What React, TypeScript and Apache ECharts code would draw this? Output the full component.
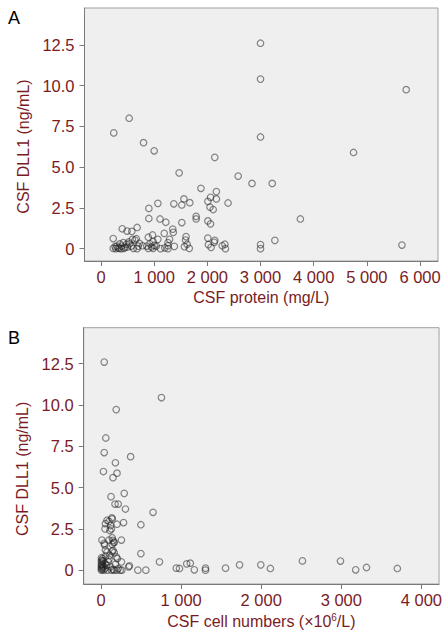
import React, { useEffect, useRef } from "react";
import * as echarts from "echarts";

// Panel A: CSF protein (mg/L) vs CSF DLL1 (ng/mL)
const proteinX = [
  3000, 3000, 5740, 530, 240, 800, 1000, 2140, 3000, 4750,
  1470, 2580, 2840, 3220, 1880, 2170, 2060, 2170, 1560, 2010,
  2390, 1670, 1370, 1520, 1070, 900, 2050, 2110, 900, 1110,
  1220, 1520, 1790, 1790, 2010, 2060, 3750, 400, 490, 580,
  680, 1350, 1360, 1190, 230, 970, 890, 1070, 1290, 1600,
  1590, 2010, 2140, 2130, 3270, 3000, 3000, 5660, 2330, 2280,
  2340, 2020, 2070, 1620, 1660, 1570, 1380, 1260, 1260, 1260,
  1120, 1040, 980, 980, 860, 890, 230, 300, 345, 390,
  430, 480, 520, 570, 610, 640, 680, 720, 665, 590,
  780, 355, 265, 420, 450, 280, 320, 380, 500, 540,
  700, 1200, 920, 950, 1000,
];
const dllA = [
  12.6, 10.4, 9.75, 8.0, 7.1, 6.5, 6.0, 5.6, 6.85, 5.9,
  4.65, 4.45, 4.0, 4.0, 3.7, 3.5, 3.15, 3.05, 3.05, 2.9,
  2.8, 2.82, 2.75, 2.68, 2.78, 2.47, 2.55, 2.4, 1.85, 1.82,
  1.62, 1.6, 1.98, 1.82, 1.7, 1.52, 1.82, 1.22, 1.08, 1.06,
  1.3, 1.2, 1.0, 0.94, 0.62, 0.84, 0.7, 0.57, 0.57, 0.74,
  0.53, 0.65, 0.51, 0.39, 0.51, 0.25, 0.0, 0.22, 0.27, 0.18,
  0.0, 0.25, 0.08, 0.27, 0.02, 0.12, 0.14, 0.37, 0.18, 0.0,
  0.0, 0.16, 0.43, 0.02, 0.16, 0.02, 0.02, 0.16, 0.02, 0.16,
  0.02, 0.27, 0.41, 0.16, 0.02, 0.53, 0.0, 0.33, 0.61, 0.57,
  0.18, 0.29, 0.12, 0.37, 0.08, 0.0, 0.05, 0.0, 0.1, 0.3,
  0.15, 0.05, 0.3, 0.1, 0.2,
];

// Panel B: CSF cell numbers (x10^6/L) vs CSF DLL1 (ng/mL)
const cellX = [
  40, 755, 190, 60, 40, 370, 180, 30, 200, 150,
  290, 125, 175, 215, 305, 650, 135, 75, 140, 100,
  282, 498, 200, 55, 120, 50, 130, 110, 140, 12,
  100, 165, 150, 255, 45, 40, 140, 160, 55, 140,
  165, 75, 150, 498, 730, 30, 100, 205, 255, 345,
  355, 460, 560, 940, 980, 1070, 1115, 1165, 1305, 1305,
  1555, 1730, 1995, 2115, 2515, 2990, 3180, 3315, 3700, 5,
  5, 5, 5, 5, 5, 5, 15, 15, 15, 25,
  25, 20, 35, 50, 50, 70, 80, 90, 120, 130,
  150, 165, 180, 200, 215, 240, 260, 110, 60, 190,
];
const dllB = [
  12.6, 10.45, 9.72, 8.0, 7.12, 6.87, 6.5, 5.97, 5.87, 5.6,
  4.65, 4.45, 4.0, 4.0, 3.7, 3.5, 3.17, 3.02, 3.1, 2.95,
  2.88, 2.75, 2.78, 2.82, 2.7, 2.5, 2.5, 2.4, 1.96, 1.82,
  1.82, 1.7, 1.8, 1.82, 1.52, 1.62, 1.56, 1.66, 1.22, 1.14,
  1.06, 1.1, 1.2, 1.0, 0.5, 0.56, 0.66, 0.7, 0.5, 0.2,
  0.26, 0.0, 0.0, 0.12, 0.1, 0.38, 0.42, 0.02, 0.12, 0.0,
  0.12, 0.32, 0.32, 0.1, 0.56, 0.55, 0.02, 0.16, 0.1, 0.0,
  0.1, 0.2, 0.3, 0.45, 0.6, 0.75, 0.05, 0.35, 0.55, 0.15,
  0.25, 0.7, 0.0, 0.4, 0.1, 0.3, 0.0, 0.5, 0.2, 0.0,
  0.05, 0.0, 0.35, 0.0, 0.1, 0.0, 0.0, 0.9, 0.85, 0.8,
];

const yTicks = [0, 2.5, 5, 7.5, 10, 12.5];
const xTicksA = [0, 1000, 2000, 3000, 4000, 5000, 6000];
const xTicksB = [0, 1000, 2000, 3000, 4000];

const LABEL_COLOR = "#7a1c1f";
const FONT = "'Liberation Sans', Arial, sans-serif";

const yFmt = (v: number) => (v === 0 ? "0" : v.toFixed(1));
const xFmt = (v: number) => (v === 0 ? "0" : `${v / 1000} 000`);

function makeY(gridIndex: number, min: number, max: number, shiftDown: number) {
  return {
    type: "value",
    gridIndex,
    min,
    max,
    name: "CSF DLL1 (ng/mL)",
    nameLocation: "middle",
    nameRotate: 90,
    nameGap: 47,
    nameTextStyle: {
      color: LABEL_COLOR, fontSize: 16, fontFamily: FONT,
      padding: [0, shiftDown * 2, 0, 0],
    },
    axisLine: { show: true, onZero: false, lineStyle: { color: "#7a7a7a", width: 1 } },
    axisTick: {
      show: true,
      length: 5,
      customValues: yTicks,
      lineStyle: { color: "#7a7a7a" },
    },
    axisLabel: {
      customValues: yTicks,
      formatter: yFmt,
      color: LABEL_COLOR,
      fontSize: 16.5,
      fontFamily: FONT,
      margin: 10,
    },
    splitLine: { show: false },
  };
}

function makeX(gridIndex: number, min: number, max: number, ticks: number[], name: string, rich?: any) {
  return {
    type: "value",
    gridIndex,
    min,
    max,
    name,
    nameLocation: "middle",
    nameGap: 28,
    nameTextStyle: { color: LABEL_COLOR, fontSize: 16, fontFamily: FONT, rich },
    axisLine: { show: true, onZero: false, lineStyle: { color: "#7a7a7a", width: 1 } },
    axisTick: {
      show: true,
      length: 5,
      customValues: ticks,
      lineStyle: { color: "#7a7a7a" },
    },
    axisLabel: {
      customValues: ticks,
      formatter: xFmt,
      color: LABEL_COLOR,
      fontSize: 16.5,
      fontFamily: FONT,
      margin: 7,
      showMaxLabel: true,
      showMinLabel: true,
    },
    splitLine: { show: false },
  };
}

const markerStyle = {
  color: "rgba(0,0,0,0)",
  borderColor: "rgba(30,30,30,0.65)",
  borderWidth: 1.2,
};

export default function App() {
  const ref = useRef<HTMLDivElement>(null);
  useEffect(() => {
    document.body.style.margin = "0";
    if (!ref.current) return;
    const chart = echarts.init(ref.current, null, { renderer: "svg" });
    const dataA = proteinX.map((x, i) => [x, dllA[i]]);
    const dataB = cellX.map((x, i) => [x, dllB[i]]);
    chart.setOption({
      animation: false,
      backgroundColor: "#ffffff",
      textStyle: { fontFamily: FONT },
      title: [
        { text: "A", left: 8, top: 9, padding: 0, textStyle: { fontSize: 18, fontWeight: "normal", color: "#000", fontFamily: FONT } },
        { text: "B", left: 8, top: 329, padding: 0, textStyle: { fontSize: 18, fontWeight: "normal", color: "#000", fontFamily: FONT } },
      ],
      grid: [
        {
          left: 84.5, top: 8, width: 353.5, height: 253,
          show: true, backgroundColor: "#efefef", borderColor: "#a0a0a0", borderWidth: 1,
          containLabel: false,
        },
        {
          left: 83.7, top: 327.7, width: 360.8, height: 259,
          show: true, backgroundColor: "#efefef", borderColor: "#a0a0a0", borderWidth: 1,
          containLabel: false,
        },
      ],
      xAxis: [
        makeX(0, -310, 6338, xTicksA, "CSF protein (mg/L)"),
        makeX(1, -216, 4221, xTicksB, "CSF cell numbers (×10{sup|6}/L)", {
          sup: { fontSize: 10, color: LABEL_COLOR, fontFamily: FONT, verticalAlign: "top", padding: [0, 0, 8, 0] },
        }),
      ],
      yAxis: [makeY(0, -0.757, 14.76, 12), makeY(1, -0.84, 14.68, 13)],
      series: [
        {
          type: "scatter", xAxisIndex: 0, yAxisIndex: 0, data: dataA,
          symbol: "circle", symbolSize: 6.5, itemStyle: markerStyle,
        },
        {
          type: "scatter", xAxisIndex: 1, yAxisIndex: 1, data: dataB,
          symbol: "circle", symbolSize: 6.5, itemStyle: markerStyle,
        },
      ],
    });
    return () => chart.dispose();
  }, []);
  return <div ref={ref} style={{ width: 445, height: 630 }} />;
}
